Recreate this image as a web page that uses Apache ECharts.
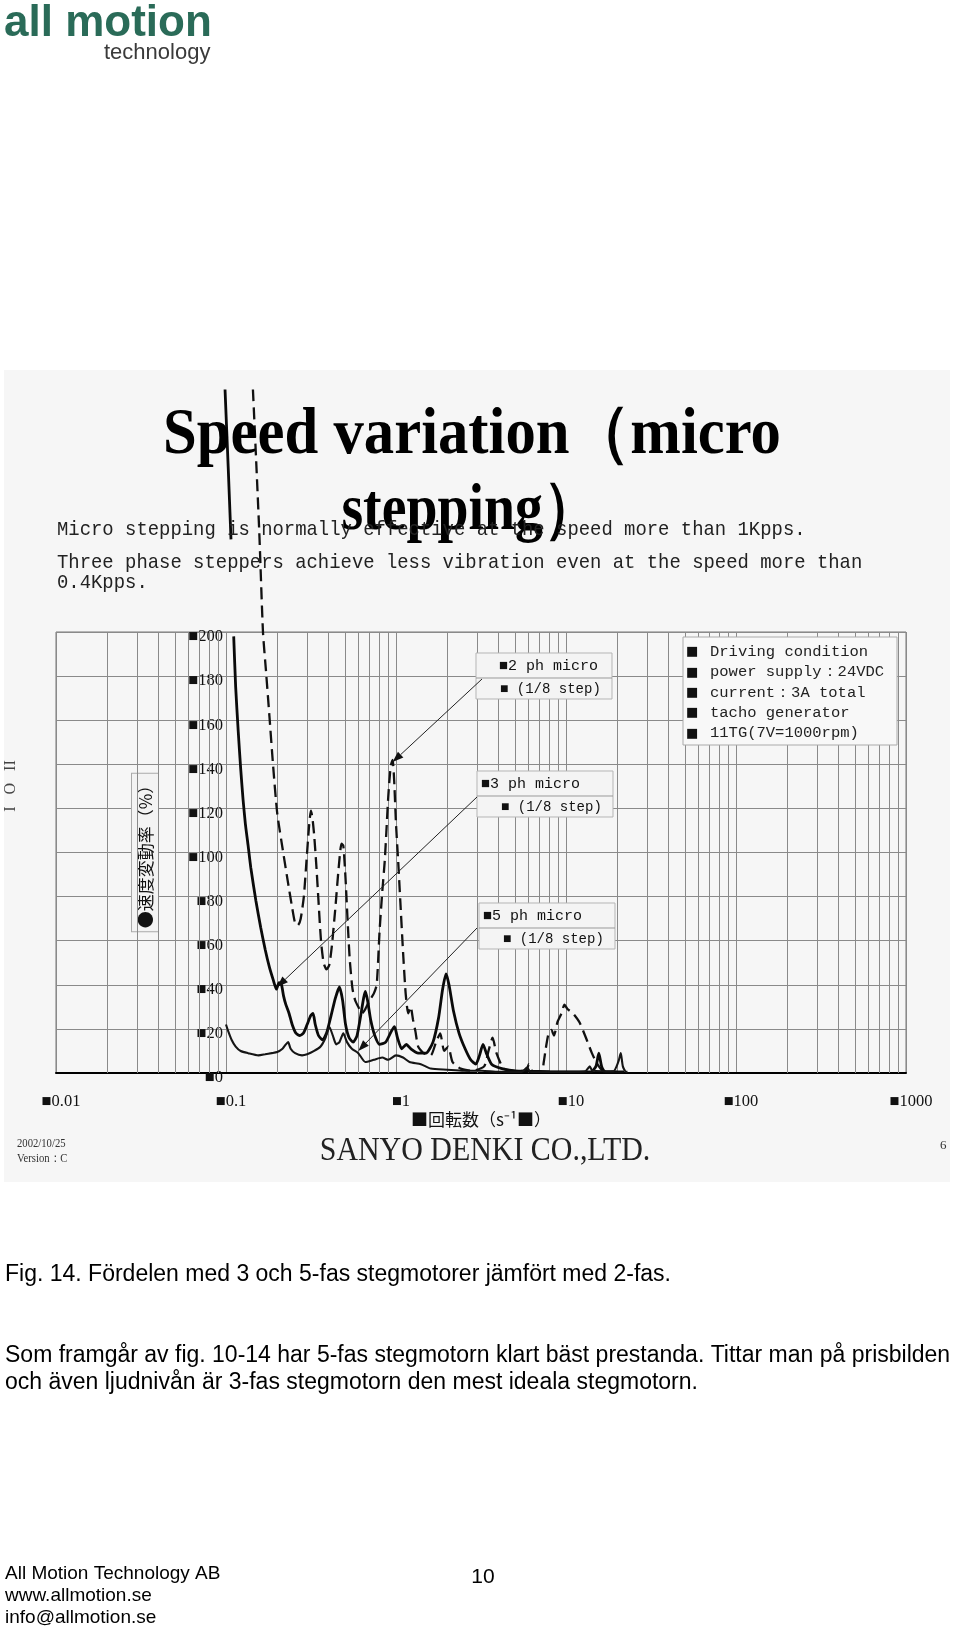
<!DOCTYPE html>
<html>
<head>
<meta charset="utf-8">
<title>Speed variation (micro stepping)</title>
<script src="https://cdn.jsdelivr.net/npm/echarts@6/dist/echarts.min.js"></script>
<style>
  html, body { margin: 0; padding: 0; background: #fff; }
  #chart { width: 960px; height: 1632px; }
</style>
</head>
<body>
<div id="chart"></div>
<script>
// speed (s^-1, log) against speed variation (%)
var xDecades = [0.01, 0.1, 1, 10, 100, 1000];
var yMax = 200;
var yStep = 20;

var seriesNames = ['2 ph micro', '3 ph micro', '5 ph micro'];
var stepNote = '(1/8 step)';

// 2 phase: dashed curve, runs off the top of the plot
var ph2Micro = [
  [0.144, 310], [0.150, 280], [0.157, 245], [0.165, 200], [0.172, 182], [0.180, 162],
  [0.189, 140], [0.200, 118], [0.216, 101], [0.232, 86], [0.245, 75], [0.255, 68],
  [0.265, 67], [0.275, 70], [0.287, 80], [0.298, 97], [0.308, 112], [0.316, 119],
  [0.322, 116], [0.330, 108], [0.340, 94], [0.350, 78], [0.362, 60], [0.375, 50],
  [0.390, 47], [0.405, 49], [0.420, 58], [0.440, 75], [0.460, 93], [0.478, 104],
  [0.490, 103], [0.505, 88], [0.520, 68], [0.535, 51], [0.555, 38], [0.575, 33],
  [0.600, 30], [0.630, 27], [0.660, 29], [0.700, 33], [0.740, 36], [0.770, 40],
  [0.800, 64], [0.830, 82], [0.860, 97], [0.900, 125], [0.930, 139], [0.955, 142],
  [0.975, 133], [1.00, 113], [1.03, 96], [1.06, 78], [1.10, 55], [1.14, 36],
  [1.18, 27], [1.22, 30], [1.26, 24], [1.30, 19], [1.35, 12], [1.45, 9], [1.60, 8],
  [1.72, 14], [1.82, 18], [1.92, 10], [2.03, 12], [2.15, 5], [2.40, 2], [2.80, 1],
  [3.30, 3], [3.50, 10], [3.70, 16], [3.90, 9], [4.30, 2], [5.00, 1], [5.80, 1],
  [6.05, 4], [6.30, 1], [7.20, 0.5], [7.40, 5], [7.60, 11], [7.90, 18], [8.20, 19.5],
  [8.50, 17], [8.90, 23], [9.40, 27], [9.80, 31], [10.2, 29], [11.0, 27], [12.0, 23],
  [13.1, 16], [14.2, 9], [15.3, 4], [16.5, 1], [18.0, 0.5], [20.0, 0.5]
];

// 3 phase: thick solid curve, hidden behind the text box between 242 and 198
var ph3Micro = [
  [0.0987, 310], [0.103, 275], [0.107, 242], [0.109, '-'], [0.111, 198], [0.114, 175],
  [0.118, 155], [0.122, 138], [0.126, 124], [0.130, 113], [0.135, 103], [0.140, 93],
  [0.150, 78], [0.160, 66], [0.170, 56], [0.180, 48], [0.190, 42], [0.198, 38],
  [0.205, 41], [0.212, 40], [0.218, 35], [0.225, 31], [0.235, 27], [0.245, 22],
  [0.258, 18], [0.272, 17], [0.285, 18], [0.300, 22], [0.315, 26], [0.325, 27],
  [0.335, 22], [0.350, 17], [0.370, 15], [0.390, 18], [0.415, 26], [0.440, 34],
  [0.465, 39], [0.485, 33], [0.505, 22], [0.530, 16], [0.560, 14], [0.590, 17],
  [0.620, 26], [0.645, 34], [0.660, 37], [0.680, 33], [0.710, 24], [0.750, 17],
  [0.800, 13], [0.870, 14], [0.940, 19], [0.980, 21], [1.02, 16], [1.08, 11],
  [1.15, 13], [1.22, 11], [1.35, 9], [1.50, 9], [1.65, 14], [1.78, 25], [1.88, 38],
  [1.97, 45], [2.05, 40], [2.18, 28], [2.35, 18], [2.55, 11], [2.75, 6], [2.95, 4],
  [3.10, 8], [3.25, 13], [3.40, 9], [3.65, 4], [4.20, 2], [5.0, 1], [6.0, 0.8],
  [8.0, 0.6], [11.0, 0.5], [14.0, 0.5], [15.0, 3], [15.6, 9], [16.2, 3], [17.0, 0.5],
  [22.0, 0.5]
];

// 5 phase: thinner solid curve, lowest one
var ph5Micro = [
  [0.100, 22], [0.103, 19], [0.108, 15], [0.114, 12], [0.122, 10], [0.135, 9],
  [0.155, 8], [0.170, 8.5], [0.185, 9], [0.200, 9.5], [0.215, 11], [0.225, 13],
  [0.232, 14], [0.240, 11], [0.255, 9], [0.280, 8], [0.300, 8.5], [0.330, 10],
  [0.360, 12], [0.385, 16], [0.405, 21], [0.425, 17], [0.445, 13], [0.465, 14],
  [0.490, 18], [0.515, 14], [0.550, 11], [0.600, 9], [0.660, 5], [0.740, 6],
  [0.830, 7], [0.900, 6], [1.00, 8], [1.10, 7], [1.20, 5], [1.40, 4], [1.60, 2],
  [2.00, 1.5], [2.50, 1], [3.20, 1], [4.00, 0.5], [5.50, 0.5], [5.90, 2.5], [6.20, 0.5],
  [9.00, 0.5], [13.0, 0.8], [13.8, 3], [14.3, 1], [19.0, 0.8], [20.3, 5], [21.0, 9],
  [21.6, 3], [22.5, 0.5], [23.0, 0.5]
];

// points the three label arrows aim at (data coords)
var arrowTargets = [[0.955, 141], [0.2, 39], [0.6, 10]];

var driveCondition = ['Driving condition', 'power supply：24VDC', 'current：3A total', 'tacho generator', '11TG(7V=1000rpm)'];

// log paper minor lines 2..9 in every decade
var minorLines = [];
xDecades.slice(0, -1).forEach(function (d) {
  for (var k = 2; k <= 9; k++) minorLines.push(+(d * k).toPrecision(3));
});

var chart = echarts.init(document.getElementById('chart'));

var gridLine = { color: '#8a8a8a', width: 1 };

var option = {
  animation: false,
  backgroundColor: '#ffffff',
  grid: { left: 56, top: 632, right: 54, bottom: 559, show: true, borderColor: '#777', borderWidth: 1 },
  xAxis: {
    type: 'log', logBase: 10, min: xDecades[0], max: xDecades[xDecades.length - 1],
    name: '■回転数（s⁻¹■）', nameLocation: 'middle', nameGap: 34,
    nameTextStyle: { fontFamily: 'Noto Sans CJK JP', fontSize: 17, color: '#111' },
    axisLine: { lineStyle: { color: '#000', width: 2 } },
    axisTick: { show: false },
    axisLabel: {
      formatter: function (v) { return '■' + (+(+v).toPrecision(3)); },
      margin: 20, padding: [0, 0, 0, 10],
      fontFamily: 'Liberation Serif', fontSize: 16.5, color: '#111',
      showMinLabel: true, showMaxLabel: true
    },
    splitLine: { show: true, lineStyle: gridLine }
  },
  yAxis: {
    type: 'value', min: 0, max: yMax, interval: yStep,
    position: 'left', offset: -170,
    name: '●速度変動率（%）', nameLocation: 'middle', nameRotate: 90, nameGap: 68,
    nameTextStyle: {
      fontFamily: 'Noto Sans CJK JP', fontSize: 17, color: '#111',
      borderColor: '#aaa', borderWidth: 1, backgroundColor: '#f3f3f3', padding: [5, 3, 4, 3]
    },
    axisLine: { show: false },
    axisTick: { show: false },
    axisLabel: {
      formatter: '■{value}', margin: 3, verticalAlign: 'top', lineHeight: 10,
      fontFamily: 'Liberation Serif', fontSize: 16.5, color: '#111'
    },
    splitLine: { lineStyle: gridLine }
  },
  series: [
    {
      name: seriesNames[0], type: 'line', data: ph2Micro, showSymbol: false, clip: false,
      smooth: 0.2, z: 3, lineStyle: { color: '#111', width: 2.3, type: [12, 6] }
    },
    {
      name: seriesNames[1], type: 'line', data: ph3Micro, showSymbol: false, clip: false,
      smooth: 0.2, z: 3, connectNulls: false, lineStyle: { color: '#0a0a0a', width: 2.8 }
    },
    {
      name: seriesNames[2], type: 'line', data: ph5Micro, showSymbol: false,
      smooth: 0.2, z: 3, lineStyle: { color: '#151515', width: 2.1 },
      markLine: {
        silent: true, symbol: 'none', z: 1, animation: false,
        label: { show: false },
        lineStyle: { color: gridLine.color, width: 1, type: 'solid' },
        data: minorLines.map(function (v) { return { xAxis: v }; })
      }
    }
  ]
};
chart.setOption(option);

function txt(x, y, text, font, extra) {
  var el = {
    type: 'text', x: x, y: y, z: 60,
    style: { text: text, font: font, fill: '#111', align: 'left', verticalAlign: 'middle' }
  };
  if (extra) {
    for (var k in extra) {
      if (k === 'style') { for (var s in extra.style) el.style[s] = extra.style[s]; }
      else el[k] = extra[k];
    }
  }
  return el;
}

var mono = '"Liberation Mono", "DejaVu Sans Mono", monospace';
var els = [];

// slide background
els.push({ type: 'rect', z: -10, shape: { x: 4, y: 370, width: 946, height: 812 }, style: { fill: '#f6f6f6' } });

// logo
els.push(txt(4, 24, 'all motion', 'bold 44px "Liberation Sans"', { style: { fill: '#2a6b58' } }));
els.push(txt(104, 53, 'technology', '22px "Liberation Sans"', { style: { fill: '#3a3a3a' } }));

// slide title
var titleShadow = { fill: '#000', align: 'center', shadowColor: 'rgba(0,0,0,0.35)', shadowBlur: 3, shadowOffsetX: 3, shadowOffsetY: 3 };
els.push(txt(472, 436, 'Speed variation（micro', 'bold 66px "Liberation Serif"', { scaleX: 0.92, style: titleShadow }));
els.push(txt(470, 512, 'stepping）', 'bold 66px "Liberation Serif"', { scaleX: 0.845, style: titleShadow }));

// slide notes
els.push(txt(57, 529, 'Micro stepping is normally effective at the speed more than 1Kpps.', '21px ' + mono, { scaleX: 0.9, style: { fill: '#222' } }));
els.push(txt(57, 562, 'Three phase steppers achieve less vibration even at the speed more than', '21px ' + mono, { scaleX: 0.9, style: { fill: '#222' } }));
els.push(txt(57, 582, '0.4Kpps.', '21px ' + mono, { scaleX: 0.9, style: { fill: '#222' } }));

// cut-off text at left edge of the slide
els.push(txt(11, 786, 'I   O   II', '16px "Liberation Serif"', { rotation: Math.PI / 2, style: { fill: '#444', align: 'center' } }));

// series label boxes
var boxes = [
  { x: 476, y: 653, tx: 499, tx2: 500 },
  { x: 477, y: 771, tx: 481, tx2: 501 },
  { x: 479, y: 903, tx: 483, tx2: 503 }
];
boxes.forEach(function (b, i) {
  els.push({ type: 'rect', z: 55, shape: { x: b.x, y: b.y, width: 136, height: 46 }, style: { fill: '#f4f4f4', stroke: '#b5b5b5', lineWidth: 1 } });
  els.push({ type: 'line', z: 56, shape: { x1: b.x, y1: b.y + 25, x2: b.x + 136, y2: b.y + 25 }, style: { stroke: '#999', lineWidth: 1 } });
  els.push(txt(b.tx, b.y + 13, '■' + seriesNames[i], '15px ' + mono));
  els.push(txt(b.tx2, b.y + 36, '■ ' + stepNote, '14px ' + mono));
});

// driving condition box
els.push({ type: 'rect', z: 55, shape: { x: 683, y: 637, width: 214, height: 108 }, style: { fill: '#f8f8f8', stroke: '#aaa', lineWidth: 1 } });
driveCondition.forEach(function (line, i) {
  var y = 652 + i * 20.3;
  els.push(txt(686, y, '■', '13px "DejaVu Sans"'));
  els.push(txt(710, y, line, '15.5px ' + mono, { style: { fill: '#222' } }));
});

// arrows from the label boxes to the curves
var arrowStarts = [[482, 679], [477, 797], [477, 928]];
arrowTargets.forEach(function (t, i) {
  var tip = chart.convertToPixel({ gridIndex: 0 }, t);
  var s = arrowStarts[i];
  var dx = tip[0] - s[0], dy = tip[1] - s[1];
  var len = Math.sqrt(dx * dx + dy * dy);
  var ux = dx / len, uy = dy / len;
  var bx = tip[0] - ux * 11, by = tip[1] - uy * 11;
  els.push({ type: 'line', z: 58, shape: { x1: s[0], y1: s[1], x2: bx, y2: by }, style: { stroke: '#222', lineWidth: 1 } });
  els.push({
    type: 'polygon', z: 58,
    shape: { points: [[tip[0], tip[1]], [bx - uy * 4, by + ux * 4], [bx + uy * 4, by - ux * 4]] },
    style: { fill: '#111' }
  });
});

// slide footer
els.push(txt(17, 1144, '2002/10/25', '13px "Liberation Serif"', { scaleX: 0.82, style: { fill: '#333' } }));
els.push(txt(17, 1159, 'Version：C', '13px "Liberation Serif"', { scaleX: 0.82, style: { fill: '#333' } }));
els.push(txt(485, 1151, 'SANYO DENKI CO.,LTD.', '34px "Liberation Serif"', { scaleX: 0.88, style: { fill: '#222', align: 'center' } }));
els.push(txt(940, 1146, '6', '13px "Liberation Serif"', { style: { fill: '#333' } }));

// document text
var sans = '"Liberation Sans", Arial, sans-serif';
els.push(txt(5, 1275, 'Fig. 14. Fördelen med 3 och 5-fas stegmotorer jämfört med 2-fas.', '23px ' + sans, { style: { fill: '#000' } }));
els.push(txt(5, 1356, 'Som framgår av fig. 10-14 har 5-fas stegmotorn klart bäst prestanda. Tittar man på prisbilden', '23px ' + sans, { style: { fill: '#000' } }));
els.push(txt(5, 1383, 'och även ljudnivån är 3-fas stegmotorn den mest ideala stegmotorn.', '23px ' + sans, { style: { fill: '#000' } }));
els.push(txt(5, 1574, 'All Motion Technology AB', '19px ' + sans, { style: { fill: '#000' } }));
els.push(txt(5, 1596, 'www.allmotion.se', '19px ' + sans, { style: { fill: '#000' } }));
els.push(txt(5, 1618, 'info@allmotion.se', '19px ' + sans, { style: { fill: '#000' } }));
els.push(txt(483, 1577, '10', '21px ' + sans, { style: { fill: '#000', align: 'center' } }));

chart.setOption({ graphic: els });
</script>
</body>
</html>
